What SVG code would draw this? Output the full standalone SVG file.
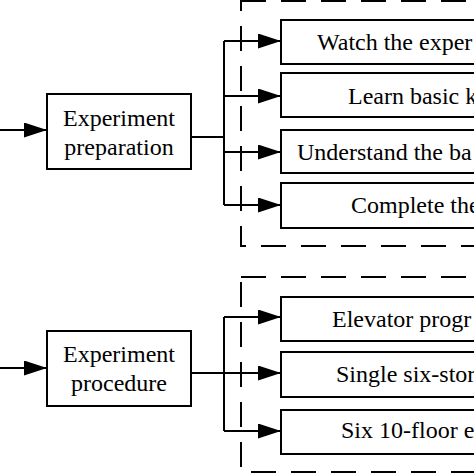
<svg xmlns="http://www.w3.org/2000/svg" width="474" height="474" viewBox="0 0 474 474">
<style>
.box{fill:#fff;stroke:#000;stroke-width:2}
.dash{fill:none;stroke:#000;stroke-width:2;stroke-dasharray:25 15}
.ln{fill:none;stroke:#000;stroke-width:2}
.arr{fill:none;stroke:#000;stroke-width:2;marker-end:url(#ah)}
text{font-family:"Liberation Serif","Times New Roman",serif;font-size:24px;fill:#000}
.c{text-anchor:middle}
</style>
<defs>
<marker id="ah" markerUnits="userSpaceOnUse" markerWidth="23" markerHeight="16" refX="23" refY="7.5" orient="auto">
<path d="M0,0 L23,7.5 L0,15 z" fill="#000"/>
</marker>
</defs>
<rect width="474" height="474" fill="#fff"/>
<g id="groups">
<rect class="dash" x="241" y="1" width="300" height="245"/>
<rect class="dash" x="241" y="277" width="300" height="195"/>
</g>
<g id="connectors">
<path class="arr" d="M0,130 H47"/>
<path class="arr" d="M0,368 H47"/>
<path class="ln" d="M191,137 H224 M224,41 V205"/>
<path class="arr" d="M224,41 H281"/>
<path class="arr" d="M224,96 H281"/>
<path class="arr" d="M224,152 H281"/>
<path class="arr" d="M224,205 H281"/>
<path class="ln" d="M191,373 H224 M224,317 V431"/>
<path class="arr" d="M224,317 H281"/>
<path class="arr" d="M224,373 H281"/>
<path class="arr" d="M224,431 H281"/>
</g>
<g id="prep">
<rect class="box" x="47" y="94" width="144" height="75"/>
<text class="c" x="119" y="126">Experiment</text>
<text class="c" x="119" y="155">preparation</text>
</g>
<g id="proc">
<rect class="box" x="47" y="331" width="144" height="75"/>
<text class="c" x="119" y="362">Experiment</text>
<text class="c" x="119" y="391">procedure</text>
</g>
<g id="p1"><rect class="box" x="281" y="20" width="260" height="44"/><text x="317" y="50">Watch the exper</text></g>
<g id="p2"><rect class="box" x="281" y="73" width="260" height="44"/><text x="348" y="104">Learn basic k</text></g>
<g id="p3"><rect class="box" x="281" y="130" width="260" height="43"/><text x="297" y="160">Understand the ba</text></g>
<g id="p4"><rect class="box" x="281" y="183" width="260" height="45"/><text x="351" y="213">Complete the</text></g>
<g id="s1"><rect class="box" x="281" y="297" width="260" height="44"/><text x="332" y="327">Elevator progr</text></g>
<g id="s2"><rect class="box" x="281" y="352" width="260" height="45"/><text x="336" y="382">Single six-stor</text></g>
<g id="s3"><rect class="box" x="281" y="410" width="260" height="44"/><text x="341" y="438">Six 10-floor e</text></g>
</svg>
